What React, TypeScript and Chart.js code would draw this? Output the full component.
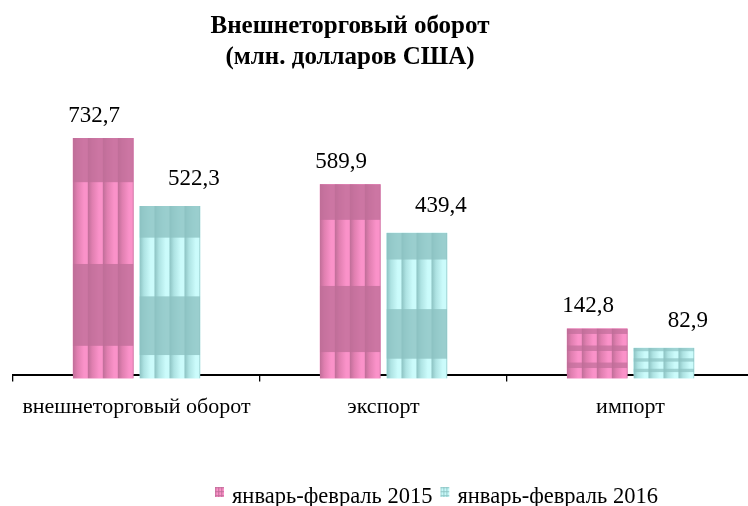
import React, { useEffect, useRef } from "react";
import { Chart, registerables } from "chart.js";

Chart.register(...registerables);

const TITLE_LINES = ["Внешнеторговый оборот", "(млн. долларов США)"];
const CATEGORIES = ["внешнеторговый оборот", "экспорт", "импорт"];
const SERIES_NAMES = ["январь-февраль 2015", "январь-февраль 2016"];
const VALUES_2015 = [732.7, 589.9, 142.8];
const VALUES_2016 = [522.3, 439.4, 82.9];
const Y_MAX = 900;

const SERIF = "'Liberation Serif', 'Times New Roman', serif";

type Style = { light: string; mid: string; dark: string; labelDx: number; labelDy: number };
const STYLES: Style[] = [
  { light: "#FA92C9", mid: "#E07FB0", dark: "#BF6E98", labelDx: -9, labelDy: -16 },
  { light: "#CBFBFB", mid: "#AEE3E3", dark: "#8CC2C2", labelDx: 24, labelDy: -21 },
];

function paintTexture(
  ctx: CanvasRenderingContext2D,
  left: number,
  top: number,
  right: number,
  bottom: number,
  st: Style,
  colW: number,
  small: boolean
) {
  const w = right - left;
  const h = bottom - top;
  if (w <= 0 || h <= 0) return;
  ctx.save();
  ctx.beginPath();
  ctx.rect(left, top, w, h);
  ctx.clip();
  ctx.fillStyle = st.light;
  ctx.fillRect(left, top, w, h);
  for (let x = left; x < right; x += colW) {
    const g = ctx.createLinearGradient(x, 0, x + colW, 0);
    g.addColorStop(0, st.dark);
    g.addColorStop(0.3, st.mid);
    g.addColorStop(0.75, st.light);
    g.addColorStop(1, st.light);
    ctx.fillStyle = g;
    ctx.fillRect(x, top, colW, h);
  }
  const period = small ? Math.max(4, h * 0.34) : h * 0.68;
  const darkLen = small ? period * 0.32 : period * 0.5;
  let y = top;
  let first = true;
  while (y < bottom) {
    const len = first && !small ? period * 0.27 : darkLen;
    ctx.globalAlpha = small ? 0.7 : 0.78;
    ctx.fillStyle = st.dark;
    ctx.fillRect(left, y, w, len);
    ctx.globalAlpha = 1;
    y += len + (period - darkLen);
    first = false;
  }
  ctx.restore();
}

const texturePlugin = {
  id: "barTexture",
  afterDatasetsDraw(chart: any) {
    const ctx: CanvasRenderingContext2D = chart.ctx;
    chart.data.datasets.forEach((ds: any, di: number) => {
      const meta = chart.getDatasetMeta(di);
      const st = STYLES[di];
      meta.data.forEach((el: any) => {
        const p = el.getProps(["x", "y", "base", "width"], true);
        const left = p.x - p.width / 2;
        const right = p.x + p.width / 2;
        const h = p.base - p.y;
        paintTexture(ctx, left, p.y, right, p.base + 4, st, 15, h < 100);
      });
    });
  },
};

const labelPlugin = {
  id: "valueLabels",
  afterDatasetsDraw(chart: any) {
    const ctx: CanvasRenderingContext2D = chart.ctx;
    ctx.save();
    ctx.font = `23px ${SERIF}`;
    ctx.fillStyle = "#000";
    ctx.textAlign = "center";
    ctx.textBaseline = "alphabetic";
    chart.data.datasets.forEach((ds: any, di: number) => {
      const meta = chart.getDatasetMeta(di);
      const st = STYLES[di];
      meta.data.forEach((el: any, i: number) => {
        const p = el.getProps(["x", "y"], true);
        const txt = Number(ds.data[i]).toFixed(1).replace(".", ",");
        ctx.fillText(txt, p.x + st.labelDx, p.y + st.labelDy);
      });
    });
    ctx.restore();
  },
};

const decorPlugin = {
  id: "decor",
  afterDraw(chart: any) {
    const ctx: CanvasRenderingContext2D = chart.ctx;
    ctx.save();
    ctx.fillStyle = "#000";
    ctx.textAlign = "center";
    ctx.textBaseline = "alphabetic";
    ctx.font = `bold 25px ${SERIF}`;
    ctx.fillText(TITLE_LINES[0], 350, 33);
    ctx.fillText(TITLE_LINES[1], 350, 64);
    ctx.font = `22.5px ${SERIF}`;
    ctx.textAlign = "left";
    let x = 215;
    SERIES_NAMES.forEach((name, i) => {
      paintTexture(ctx, x, 487, x + 9, 497, STYLES[i], 3, true);
      x += 9 + 8;
      ctx.fillStyle = "#000";
      ctx.fillText(name, x, 503);
      x += ctx.measureText(name).width + 8;
    });
    ctx.restore();
  },
};

export default function App() {
  const ref = useRef<HTMLCanvasElement | null>(null);
  useEffect(() => {
    if (!ref.current) return;
    const chart = new Chart(ref.current, {
      type: "bar",
      data: {
        labels: CATEGORIES,
        datasets: [
          { label: SERIES_NAMES[0], data: VALUES_2015, backgroundColor: STYLES[0].light, borderWidth: 0 },
          { label: SERIES_NAMES[1], data: VALUES_2016, backgroundColor: STYLES[1].light, borderWidth: 0 },
        ],
      },
      options: {
        responsive: false,
        animation: false,
        events: [],
        layout: { padding: { left: 13, right: 6, top: 84, bottom: 74 } },
        datasets: { bar: { categoryPercentage: 0.54, barPercentage: 0.91 } } as any,
        plugins: {
          legend: { display: false },
          title: { display: false },
          tooltip: { enabled: false },
        },
        scales: {
          x: {
            z: 1,
            grid: {
              display: true,
              drawOnChartArea: false,
              drawTicks: true,
              tickLength: 7,
              color: "#000",
              lineWidth: 1.3,
              offset: true,
            },
            border: { display: true, color: "#000", width: 2 },
            ticks: {
              color: "#000",
              font: { family: SERIF, size: 22 },
              padding: 12,
              maxRotation: 0,
              autoSkip: false,
            },
          },
          y: { display: false, min: 0, max: Y_MAX },
        },
      } as any,
      plugins: [texturePlugin, labelPlugin, decorPlugin],
    });
    return () => chart.destroy();
  }, []);
  return (
    <div
      style={{
        position: "fixed",
        left: 0,
        top: 0,
        width: 748,
        height: 506,
        overflow: "hidden",
        background: "#fff",
      }}
    >
      <canvas ref={ref} width={760} height={506} style={{ display: "block" }} />
    </div>
  );
}
